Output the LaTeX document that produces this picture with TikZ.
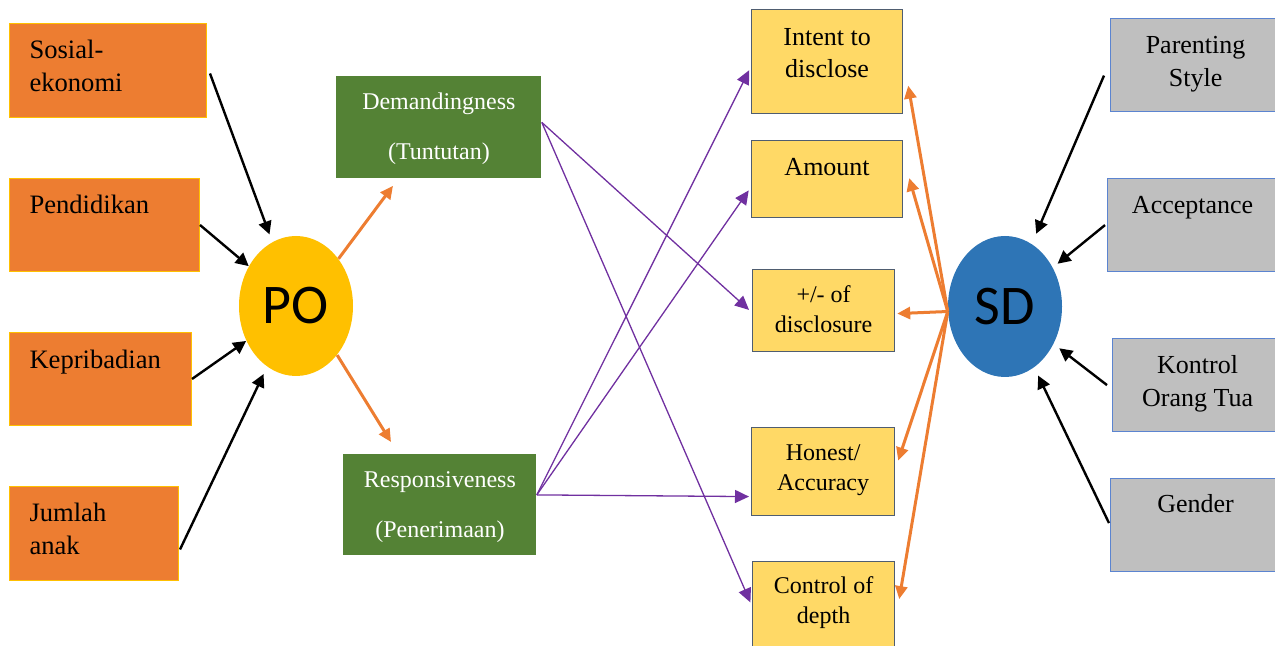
\documentclass[tikz,border=0pt]{standalone}
\usepackage{fontspec}
\setmainfont{Liberation Serif}
\newfontfamily\carlito{Carlito}
\usepackage{tikz}
\usetikzlibrary{arrows.meta,shapes.geometric}
\definecolor{oranye}{HTML}{ED7D31}
\definecolor{kuning}{HTML}{FFC000}
\definecolor{hijau}{HTML}{548235}
\definecolor{kuningMuda}{HTML}{FFD966}
\definecolor{garisAspek}{HTML}{4F5D70}
\definecolor{abu}{HTML}{BFBFBF}
\definecolor{garisBiru}{HTML}{5B84D0}
\definecolor{biru}{HTML}{2E75B6}
\definecolor{ungu}{HTML}{7030A0}

\begin{document}
\begin{tikzpicture}[x=0.5pt,y=-0.5pt,
  faktor/.style={draw=kuning,line width=0.5pt,fill=oranye,anchor=north west,inner xsep=10pt,inner ysep=0pt,align=flush left,font=\fontsize{13.3}{16.5}\selectfont},
  dimensi/.style={fill=hijau,text=white,anchor=north west,inner sep=0pt,align=flush center,font=\fontsize{12}{25}\selectfont},
  aspek/.style={draw=garisAspek,line width=0.6pt,fill=kuningMuda,anchor=north west,inner sep=0pt,align=flush center,font=\fontsize{12}{15}\selectfont},
  pengaruh/.style={draw=garisBiru,line width=0.6pt,fill=abu,anchor=north west,inner sep=0pt,align=flush center,text width=85pt,font=\fontsize{13}{16.5}\selectfont},
  bulat/.style={ellipse,inner sep=0pt,minimum width=57pt,minimum height=70pt,font=\carlito\fontsize{28}{28}\selectfont},
  panahHitam/.style={line width=1.2pt,-{Triangle[length=6.5pt,width=6.5pt]}},
  panahOranye/.style={oranye,line width=1.5pt,-{Triangle[length=6.5pt,width=6pt]}},
  panahUngu/.style={ungu,line width=0.65pt,-{Triangle[length=7pt,width=6.5pt]}}]
\useasboundingbox (0,0) rectangle (1275,646);
% faktor orang tua
\node[faktor,text width=78.5pt,text height=17.5pt,text depth=29.5pt] (sosial) at (9,23) {Sosial-\\ekonomi};
\node[faktor,text width=75pt,text height=17.5pt,text depth=29pt] (pendidikan) at (9,178) {Pendidikan};
\node[faktor,text width=71pt,text height=18pt,text depth=28.5pt] (kepribadian) at (9,332) {Kepribadian};
\node[faktor,text width=64.5pt,text height=17.5pt,text depth=29.5pt] (jumlah) at (9,486) {Jumlah\\anak};
\node[bulat,fill=kuning] (po) at (296,306) {PO};
\node[dimensi,text width=102.5pt,text height=16.5pt,text depth=34.5pt] (dem) at (336,76) {Demandingness\\(Tuntutan)};
\node[dimensi,text width=96.5pt,text height=16.5pt,text depth=34pt] (resp) at (343,454) {Responsiveness\\(Penerimaan)};
% aspek self disclosure
\node[aspek,text width=75.5pt,text height=18pt,text depth=34pt,font=\fontsize{13}{16}\selectfont] (intent) at (751,9) {Intent to\\disclose};
\node[aspek,text width=75.5pt,text height=17.5pt,text depth=21pt,font=\fontsize{13}{16}\selectfont] (amount) at (751,140) {Amount};
\node[aspek,text width=71pt,text height=16.5pt,text depth=24.5pt] (plusminus) at (752,269) {+/- of\\disclosure};
\node[aspek,text width=71.5pt,text height=16.5pt,text depth=27.5pt] (honest) at (751,427) {Honest/\\Accuracy};
\node[aspek,text width=71pt,text height=16pt,text depth=31.5pt] (control) at (752,561) {Control of\\depth};
\node[bulat,fill=biru,minimum height=70.5pt] (sd) at (1005,306.5) {SD};
\node[pengaruh,text height=17.5pt,text depth=29pt] (parenting) at (1110,18) {Parenting\\Style};
\node[pengaruh,text height=17.5pt,text depth=29pt] (acceptance) at (1107,178) {Acceptance};
\node[pengaruh,text height=17.5pt,text depth=29pt] (kontrol) at (1112,338) {Kontrol\\Orang Tua};
\node[pengaruh,text height=17pt,text depth=29.5pt] (gender) at (1110,478) {Gender};
% panah
\draw[panahHitam,shorten >=4pt] ([shift={(3,3)}]sosial.east) -- (po);
\draw[panahHitam] (pendidikan.east) -- (po);
\draw[panahHitam] (kepribadian.east) -- (po);
\draw[panahHitam,shorten >=4pt] ([shift={(1,16)}]jumlah.east) -- (po);
\draw[panahOranye] (po.48) -- ([shift={(57,7)}]dem.south west);
\draw[panahOranye] (po.-50) -- ([shift={(48,-12)}]resp.north west);
\draw[panahUngu,shorten >=2pt] ([shift={(0,-5)}]dem.east) -- ([shift={(0,2)}]plusminus.west);
\draw[panahUngu,shorten >=2pt] ([shift={(0,-5)}]dem.east) -- ([shift={(0,-3)}]control.west);
\draw[panahUngu,shorten >=2pt] ([shift={(0,-10)}]resp.east) -- ([shift={(0,5)}]intent.west);
\draw[panahUngu,shorten >=2pt] ([shift={(0,-10)}]resp.east) -- ([shift={(0,8)}]amount.west);
\draw[panahUngu,shorten >=1pt] ([shift={(0,-10)}]resp.east) -- ([shift={(0,25)}]honest.west);
\draw[panahOranye] (sd.185) -- ([shift={(5,24)}]intent.east);
\draw[panahOranye] (sd.185) -- ([shift={(6,-1)}]amount.east);
\draw[panahOranye] (sd.185) -- ([shift={(2,3)}]plusminus.east);
\draw[panahOranye] (sd.185) -- ([shift={(3,-11)}]honest.east);
\draw[panahOranye] (sd.185) -- ([shift={(4,-10)}]control.east);
\draw[panahHitam,shorten >=5.5pt] ([shift={(-6,10.5)}]parenting.west) -- (sd);
\draw[panahHitam,shorten >=3pt] ([shift={(-2,0)}]acceptance.west) -- (sd);
\draw[panahHitam,shorten >=3.5pt] ([shift={(-5,0)}]kontrol.west) -- (sd);
\draw[panahHitam,shorten >=4.5pt] ([shift={(-1,-2)}]gender.west) -- (sd);
\end{tikzpicture}
\end{document}
